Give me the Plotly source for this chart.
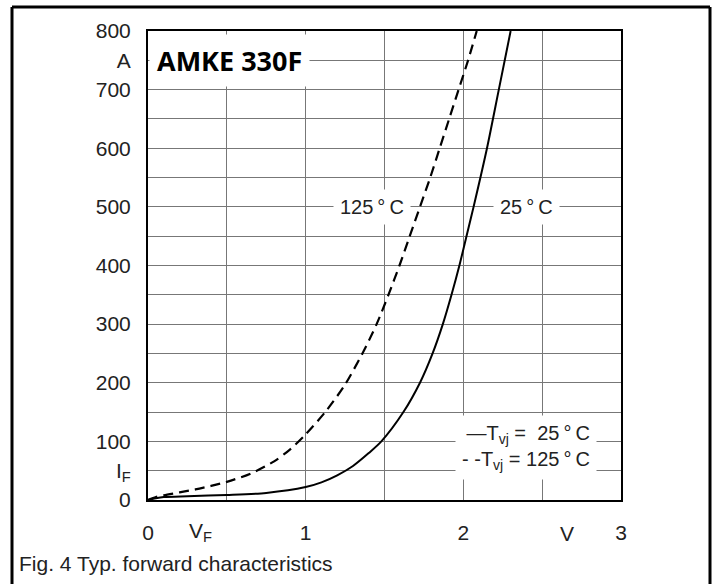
import plotly.graph_objects as go

# ---- data ----
v_25 = [0, 0.05, 0.1, 0.25, 0.5, 0.75, 1.0, 1.1, 1.2, 1.3, 1.4, 1.48, 1.62, 1.725, 1.805, 1.87, 1.925, 1.975, 2.02, 2.065, 2.15, 2.225, 2.30]
i_25 = [0, 3, 5, 6.5, 8.5, 12, 22, 30, 42, 58, 80, 100, 150, 200, 250, 300, 350, 400, 450, 500, 600, 700, 800]

v_125 = [0, 0.05, 0.1, 0.2, 0.3, 0.4, 0.5, 0.65, 0.8, 0.9, 1.0, 1.13, 1.25, 1.36, 1.45, 1.525, 1.595, 1.66, 1.725, 1.79, 1.85, 1.91, 1.97, 2.03, 2.085]
i_125 = [0, 5, 8, 13, 18, 24, 31, 45, 66, 86, 112, 152, 197, 250, 300, 350, 400, 450, 500, 550, 600, 650, 700, 750, 800]

x_tickvals = [0, 0.5, 1, 1.5, 2, 2.5, 3]
x_ticktext = ["0", " ", "1", " ", "2", " ", "3"]
y_tickvals = list(range(0, 801, 50))
y_ticktext = ["0", "I<sub>F</sub>", "100", " ", "200", " ", "300", " ", "400", " ", "500", " ", "600", " ", "700", "A", "800"]

FONT = "Liberation Sans, Arial, Helvetica, sans-serif"
GRID = "#777777"
TXT = "#222222"

# plot area in pixels
W, H = 720, 584
L, R, T, B = 148, 621, 31, 500


def px(xp):
    return (xp - L) / (R - L)


def py(yp):
    return (B - yp) / (B - T)


fig = go.Figure()
fig.add_trace(go.Scatter(x=v_25, y=i_25, mode="lines", name="T<sub>vj</sub> = 25°C",
                         line=dict(color="black", width=2, shape="spline", smoothing=0.8)))
fig.add_trace(go.Scatter(x=v_125, y=i_125, mode="lines", name="T<sub>vj</sub> = 125°C",
                         line=dict(color="black", width=2.2, dash="10px,6px", shape="spline", smoothing=0.8)))

fig.update_layout(
    width=W, height=H,
    margin=dict(l=L, r=W - R, t=T, b=H - B, pad=0),
    paper_bgcolor="white", plot_bgcolor="white",
    showlegend=False,
    font=dict(family=FONT, size=21, color=TXT),
    xaxis=dict(range=[0, 3], tickvals=x_tickvals, ticktext=x_ticktext,
               showgrid=True, gridcolor=GRID, gridwidth=1, zeroline=False,
               showline=True, linecolor="black", linewidth=2, mirror=True,
               ticks="", ticklabelstandoff=13, tickfont=dict(size=21, family=FONT, color=TXT)),
    yaxis=dict(range=[0, 800], tickvals=y_tickvals, ticktext=y_ticktext,
               showgrid=True, gridcolor=GRID, gridwidth=1, zeroline=False,
               showline=True, linecolor="black", linewidth=2, mirror=True,
               ticks="", ticklabelstandoff=11, tickfont=dict(size=21, family=FONT, color=TXT)),
)

# axis unit / symbol labels
fig.add_annotation(x=0.33, y=0, xref="x", yref="paper", xanchor="center", yanchor="middle", yshift=-32,
                   text="V<sub>F</sub>", showarrow=False, font=dict(size=21, family=FONT, color=TXT))
fig.add_annotation(x=2.66, y=0, xref="x", yref="paper", xanchor="center", yanchor="middle", yshift=-33,
                   text="V", showarrow=False, font=dict(size=21, family=FONT, color=TXT))

# title box
fig.add_annotation(x=px(229), y=py(60), xref="paper", yref="paper", xanchor="center", yanchor="middle",
                   text="<b>AMKE 330F</b>", showarrow=False, bgcolor="white",
                   borderpad=7, font=dict(size=27, family="Open Sans, sans-serif", color="black"))

# curve labels
fig.add_annotation(x=1.5, y=500, xref="x", yref="y", xanchor="center", yanchor="middle",
                   text="125\u2009°\u2009C",
                   showarrow=False, bgcolor="white", borderpad=6, xshift=-13,
                   font=dict(size=20, family=FONT, color=TXT))
fig.add_annotation(x=2.4, y=500, xref="x", yref="y", xanchor="center", yanchor="middle",
                   text="25\u2009°\u2009C",
                   showarrow=False, bgcolor="white", borderpad=6, xshift=0,
                   font=dict(size=20, family=FONT, color=TXT))

# legend box
fig.add_annotation(x=px(597), y=py(447), xref="paper", yref="paper", xanchor="right", yanchor="middle",
                   text="\u2014T<sub>vj</sub> =\u00a0\u00a025\u2009°\u2009C<br>- -T<sub>vj</sub> = 125\u2009°\u2009C",
                   align="right", showarrow=False, bgcolor="white", borderpad=6,
                   font=dict(size=20, family=FONT, color=TXT))

# caption
fig.add_annotation(x=px(17), y=py(563), xref="paper", yref="paper", xanchor="left", yanchor="middle",
                   text="Fig. 4 Typ. forward characteristics", showarrow=False,
                   font=dict(size=21, family=FONT, color=TXT))

# outer frame (left, top, right)
frame = dict(type="line", xref="paper", yref="paper", line=dict(color="black", width=3), layer="above")
fig.add_shape(x0=px(12), x1=px(12), y0=py(7), y1=py(590), **frame)
fig.add_shape(x0=px(12), x1=px(710), y0=py(7), y1=py(7), **frame)
fig.add_shape(x0=px(710), x1=px(710), y0=py(7), y1=py(590), **frame)

fig.write_html("out.html")
